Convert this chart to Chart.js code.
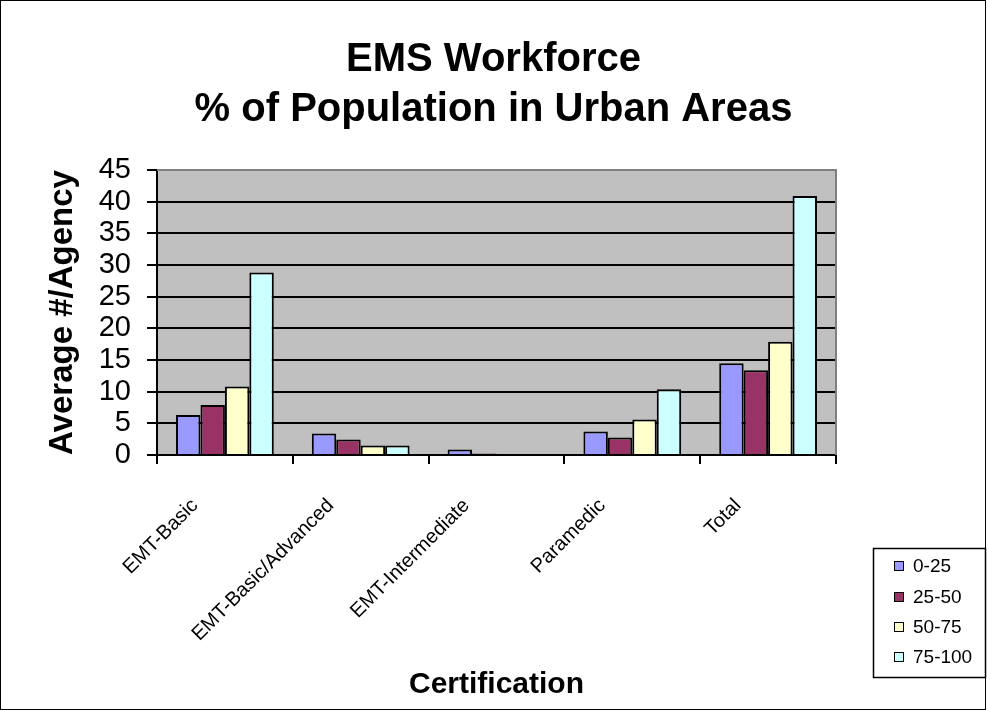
<!DOCTYPE html>
<html>
<head>
<meta charset="utf-8">
<script src="https://cdn.jsdelivr.net/npm/chart.js@4.4.1/dist/chart.umd.min.js"></script>
<style>
    html, body { margin: 0; padding: 0; background: #fff; }
    #wrap { width: 987px; height: 711px; }
</style>
</head>
<body>
<div id="wrap"><canvas id="myChart" width="987" height="711"></canvas></div>
<script>
var categories = ['EMT-Basic', 'EMT-Basic/Advanced', 'EMT-Intermediate', 'Paramedic', 'Total'];
var seriesNames = ['0-25', '25-50', '50-75', '75-100'];
var values0to25 = [6.3, 3.4, 0.85, 3.7, 14.5];
var values25to50 = [7.9, 2.45, 0.25, 2.75, 13.4];
var values50to75 = [10.8, 1.5, 0, 5.6, 17.9];
var values75to100 = [28.8, 1.5, 0, 10.4, 40.9];
var seriesColors = ['#9999FF', '#993366', '#FFFFCC', '#CCFFFF'];
var yTicks = [0, 5, 10, 15, 20, 25, 30, 35, 40, 45];

var FONT = "'Liberation Sans', Arial, sans-serif";

// grey plot area + grey top/right frame + outer border
var plotBg = {
    id: 'plotBg',
    beforeDraw: function (chart) {
        var a = chart.chartArea, ctx = chart.ctx;
        ctx.save();
        ctx.fillStyle = '#C0C0C0';
        ctx.fillRect(a.left, a.top, a.right - a.left, a.bottom - a.top);
        ctx.restore();
    },
    afterDraw: function (chart) {
        var a = chart.chartArea, ctx = chart.ctx;
        ctx.save();
        ctx.strokeStyle = '#808080';
        ctx.lineWidth = 2;
        ctx.beginPath();
        ctx.moveTo(a.left, a.top);
        ctx.lineTo(a.right, a.top);
        ctx.lineTo(a.right, a.bottom);
        ctx.stroke();
        ctx.strokeStyle = '#000';
        ctx.lineWidth = 1;
        ctx.strokeRect(0.5, 0.5, 985, 709);
        ctx.restore();
    }
};

// boxed legend bottom right, like the original
var boxLegend = {
    id: 'boxLegend',
    afterDraw: function (chart) {
        var ctx = chart.ctx;
        var x = 873, y = 548, w = 112, h = 129;
        var rowY = [566, 597, 627, 657];
        ctx.save();
        ctx.fillStyle = '#fff';
        ctx.fillRect(x, y, w, h);
        ctx.strokeStyle = '#000';
        ctx.lineWidth = 1.5;
        ctx.strokeRect(x + 0.5, y + 0.5, w, h);
        ctx.font = '19px ' + FONT;
        ctx.textBaseline = 'middle';
        chart.data.datasets.forEach(function (ds, i) {
            ctx.fillStyle = ds.backgroundColor;
            ctx.fillRect(894, rowY[i] - 5, 10, 10);
            ctx.lineWidth = 1;
            ctx.strokeRect(894.5, rowY[i] - 4.5, 9, 9);
            ctx.fillStyle = '#000';
            ctx.fillText(ds.label, 913, rowY[i] + 1);
        });
        ctx.restore();
    }
};

var seriesValues = [values0to25, values25to50, values50to75, values75to100];

var ctx = document.getElementById('myChart').getContext('2d');

new Chart(ctx, {
    type: 'bar',
    data: {
        labels: categories,
        datasets: seriesNames.map(function (name, i) {
            return {
                label: name,
                data: seriesValues[i],
                backgroundColor: seriesColors[i],
                borderColor: '#000',
                borderWidth: 2,
                categoryPercentage: 0.72,
                barPercentage: 1
            };
        })
    },
    options: {
        responsive: false,
        animation: false,
        layout: {
            padding: { left: 8, right: 8, top: 0, bottom: 4 }
        },
        plugins: {
            legend: { display: false },
            tooltip: { enabled: false },
            title: {
                display: true,
                text: ['EMS Workforce', '% of Population in Urban Areas'],
                color: '#000',
                font: { family: FONT, size: 40, weight: 'bold', lineHeight: 1.25 },
                padding: { top: 35, bottom: 35 }
            }
        },
        scales: {
            x: {
                afterFit: function (scale) { scale.height = 711 - 455 - 4; },
                grid: {
                    offset: true,
                    drawOnChartArea: false,
                    color: '#000',
                    lineWidth: 2,
                    tickLength: 9
                },
                border: { color: '#000', width: 2 },
                ticks: {
                    color: '#000',
                    font: { family: FONT, size: 20 },
                    minRotation: 45,
                    maxRotation: 45,
                    autoSkip: false,
                    labelOffset: -30,
                    padding: 30
                },
                title: {
                    display: true,
                    text: 'Certification',
                    color: '#000',
                    font: { family: FONT, size: 30, weight: 'bold', lineHeight: 1.2 },
                    padding: { top: 0, bottom: 4 }
                }
            },
            y: {
                min: 0,
                max: 45,
                afterFit: function (scale) { scale.width = 157 - 8; },
                afterBuildTicks: function (scale) {
                    scale.ticks = yTicks.map(function (v) { return { value: v }; });
                },
                grid: {
                    color: '#000',
                    lineWidth: 2,
                    tickLength: 10
                },
                border: { color: '#000', width: 2 },
                ticks: {
                    color: '#000',
                    font: { family: FONT, size: 29 },
                    padding: 16,
                    autoSkip: false
                },
                title: {
                    display: true,
                    text: 'Average #/Agency',
                    color: '#000',
                    font: { family: FONT, size: 33, weight: 'bold', lineHeight: 1.2 },
                    padding: { top: 35, bottom: 0 }
                }
            },
            // empty axis on the right that keeps room for the legend
            yRight: {
                position: 'right',
                min: 0,
                max: 45,
                afterFit: function (scale) { scale.width = 987 - 836 - 8; },
                grid: { display: false },
                border: { display: false },
                ticks: { display: false }
            }
        }
    },
    plugins: [plotBg, boxLegend]
});
</script>
</body>
</html>
